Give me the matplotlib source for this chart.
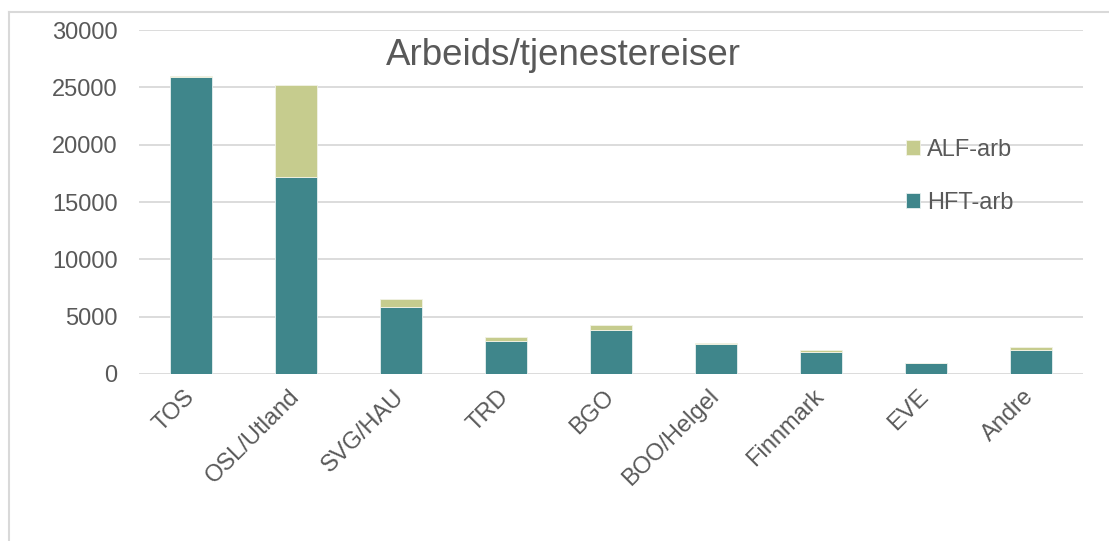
import matplotlib.pyplot as plt
from matplotlib.lines import Line2D
import numpy as np

plt.rcParams['font.family'] = ['Liberation Sans', 'DejaVu Sans']

categories = ['TOS', 'OSL/Utland', 'SVG/HAU', 'TRD', 'BGO', 'BOO/Helgel', 'Finnmark', 'EVE', 'Andre']
hft_arb = [25900, 17200, 5870, 2880, 3870, 2590, 1960, 980, 2100]
alf_arb = [100, 8000, 680, 320, 400, 110, 100, 20, 250]

teal = '#3F868B'
olive = '#C6CC8E'
grid_col = '#D9D9D9'
text_col = '#595959'

fig = plt.figure(figsize=(11.09, 5.41), dpi=100)
ax = fig.add_axes([0.1249, 0.3087, 0.8517, 0.6358])

x = np.arange(len(categories))
ax.bar(x, hft_arb, width=0.4, color=teal, edgecolor='#E8F0F0', linewidth=0.6,
       label='HFT-arb', zorder=3)
ax.bar(x, alf_arb, width=0.4, bottom=hft_arb, color=olive, edgecolor='#F2F3E6',
       linewidth=0.6, label='ALF-arb', zorder=3)

ax.set_xlim(-0.5, len(categories) - 0.5)
ax.set_ylim(0, 30000)
ax.set_yticks(range(0, 30001, 5000))
ax.yaxis.grid(True, color=grid_col, linewidth=1.3, zorder=0)
for s in ax.spines.values():
    s.set_visible(False)
ax.tick_params(length=0, labelsize=17, colors=text_col)
ax.tick_params(axis='y', pad=15)
ax.set_xticks(x)
ax.set_xticklabels(categories, rotation=45, ha='right', va='center',
                   rotation_mode='anchor')
ax.tick_params(axis='x', pad=14)

fig.text(0.508, 0.897, 'Arbeids/tjenestereiser', ha='center', va='center',
         fontsize=26.5, color=text_col)

handles, labels = ax.get_legend_handles_labels()
leg = ax.legend(handles[::-1], labels[::-1], loc='center left',
                bbox_to_anchor=(0.79, 0.575), frameon=False, fontsize=17,
                labelspacing=1.3, handlelength=0.6, handleheight=0.6,
                handletextpad=0.3, labelcolor=text_col)

# chart frame
fig.add_artist(Line2D([9 / 1109, 9 / 1109], [0, 1 - 12 / 541], color=grid_col,
                      linewidth=1.5, transform=fig.transFigure))
fig.add_artist(Line2D([9 / 1109, 1], [1 - 12 / 541, 1 - 12 / 541], color=grid_col,
                      linewidth=1.5, transform=fig.transFigure))

fig.savefig('out.png', dpi=100)
